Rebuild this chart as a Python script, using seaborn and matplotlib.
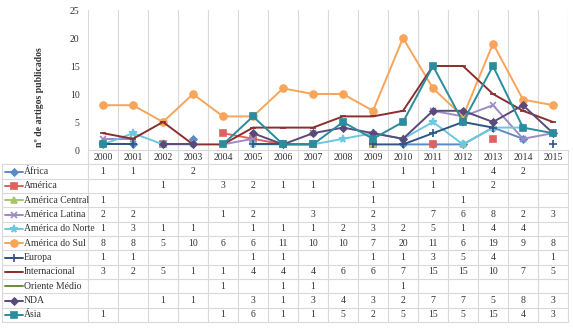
import numpy as np
import pandas as pd
import matplotlib
matplotlib.use("Agg")
import matplotlib.pyplot as plt
import seaborn as sns

years = list(range(2000, 2016))
N = np.nan
africa = [1, 1, N, 2, N, N, N, N, N, N, 1, 1, 1, 4, 2, N]
america = [N, N, 1, N, 3, 2, 1, 1, N, 1, N, 1, N, 2, N, N]
america_central = [1, N, N, N, N, N, N, N, N, 1, N, N, 1, N, N, N]
america_latina = [2, 2, N, N, 1, 2, N, 3, N, 2, N, 7, 6, 8, 2, 3]
america_norte = [1, 3, 1, 1, N, 1, 1, 1, 2, 3, 2, 5, 1, 4, 4, N]
america_sul = [8, 8, 5, 10, 6, 6, 11, 10, 10, 7, 20, 11, 6, 19, 9, 8]
europa = [1, 1, N, N, N, 1, 1, N, N, 1, 1, 3, 5, 4, N, 1]
internacional = [3, 2, 5, 1, 1, 4, 4, 4, 6, 6, 7, 15, 15, 10, 7, 5]
oriente_medio = [N, N, N, N, 1, N, 1, 1, N, N, 1, N, N, N, N, N]
nda = [N, N, 1, 1, N, 3, 1, 3, 4, 3, 2, 7, 7, 5, 8, 3]
asia = [1, N, N, N, 1, 6, 1, 1, 5, 2, 5, 15, 5, 15, 4, 3]

names = ["África", "América", "América Central", "América Latina", "América do Norte",
         "América do Sul", "Europa", "Internacional", "Oriente Médio", "NDA", "Ásia"]
values = [africa, america, america_central, america_latina, america_norte,
          america_sul, europa, internacional, oriente_medio, nda, asia]
colors = ["#5A8BC6", "#E0625F", "#A6C56C", "#9D8BC4", "#6CC8DE",
          "#F8A45A", "#2E5583", "#8A2F2D", "#6E8A3A", "#5A4A7C", "#2A8C9C"]
markers = ["D", "s", "^", "x", "*", "o", "+", "_", "_", "D", "s"]
msizes = [3.5, 4.5, 4.5, 5, 5.5, 5, 6, 4, 0, 3.5, 4.5]

sns.set_style("white")
plt.rcParams["font.family"] = ["Liberation Serif", "DejaVu Serif"]
TXT = "#333333"
GRID = "#D9D9D9"

W, H = 573, 328
fig = plt.figure(figsize=(W / 100, H / 100), dpi=100)
ax = fig.add_axes([88 / W, 1 - 150 / H, 480 / W, 140 / H])

for name, vals, c, m, ms in zip(names, values, colors, markers, msizes):
    rows = []
    seg = 0
    prev = False
    for yr, v in zip(years, vals):
        if np.isnan(v):
            prev = False
            continue
        if not prev:
            seg += 1
        prev = True
        rows.append({"year": yr, "value": v, "seg": seg})
    df = pd.DataFrame(rows)
    sns.lineplot(data=df, x="year", y="value", units="seg", estimator=None,
                 color=c, marker=m, markersize=ms, markeredgecolor=c,
                 markeredgewidth=1.2, linewidth=1.4, legend=False, ax=ax,
                 zorder=3)

ax.set_xlim(1999.5, 2015.5)
ax.set_ylim(0, 25)
ax.set_yticks([0, 5, 10, 15, 20, 25])
ax.set_xticks([])
ax.set_xlabel("")
ax.set_ylabel("")
for s in ["top", "right", "left"]:
    ax.spines[s].set_visible(False)
ax.spines["bottom"].set_color(GRID)
ax.spines["bottom"].set_linewidth(0.8)
ax.tick_params(axis="y", length=0, labelsize=7, labelcolor=TXT, pad=6)
for k in range(17):
    ax.axvline(1999.5 + k, color=GRID, lw=0.8, zorder=0)

fig.text(40 / W, 1 - 97 / H, "nº de artigos publicados", rotation=90,
         ha="center", va="center", fontsize=7, fontweight="bold", color=TXT)

# data table
x0 = 1999.5 - 86 / 30
tab = fig.add_axes([2 / W, 1 - 322 / H, 566 / W, 172 / H])
tab.set_xlim(x0, 2015.5)
tab.set_ylim(12, 0)
tab.axis("off")
nrow = len(names) + 1
for r in range(1, nrow + 1):
    tab.plot([x0, 2015.5], [r, r], color=GRID, lw=0.8, clip_on=False)
for k in range(17):
    tab.plot([1999.5 + k] * 2, [0, nrow], color=GRID, lw=0.8, clip_on=False)
tab.plot([x0, x0], [1, nrow], color=GRID, lw=0.8, clip_on=False)

for yr in years:
    tab.text(yr, 0.5, str(yr), ha="center", va="center", fontsize=7, color=TXT)

for i, (name, vals, c, m, ms) in enumerate(zip(names, values, colors, markers, msizes)):
    yc = i + 1.5
    tab.plot([x0 + 3 / 30, x0 + 21 / 30], [yc, yc], color=c, lw=1.4, clip_on=False)
    if ms > 0:
        tab.plot([x0 + 12 / 30], [yc], marker=m, color=c, markersize=ms,
                 markeredgecolor=c, markeredgewidth=1.2, clip_on=False)
    tab.text(x0 + 22 / 30, yc, name, ha="left", va="center", fontsize=7, color=TXT)
    for yr, v in zip(years, vals):
        if not np.isnan(v):
            tab.text(yr, yc, f"{int(v)}", ha="center", va="center", fontsize=7, color=TXT)

fig.savefig("out.png", dpi=100, facecolor="white")
